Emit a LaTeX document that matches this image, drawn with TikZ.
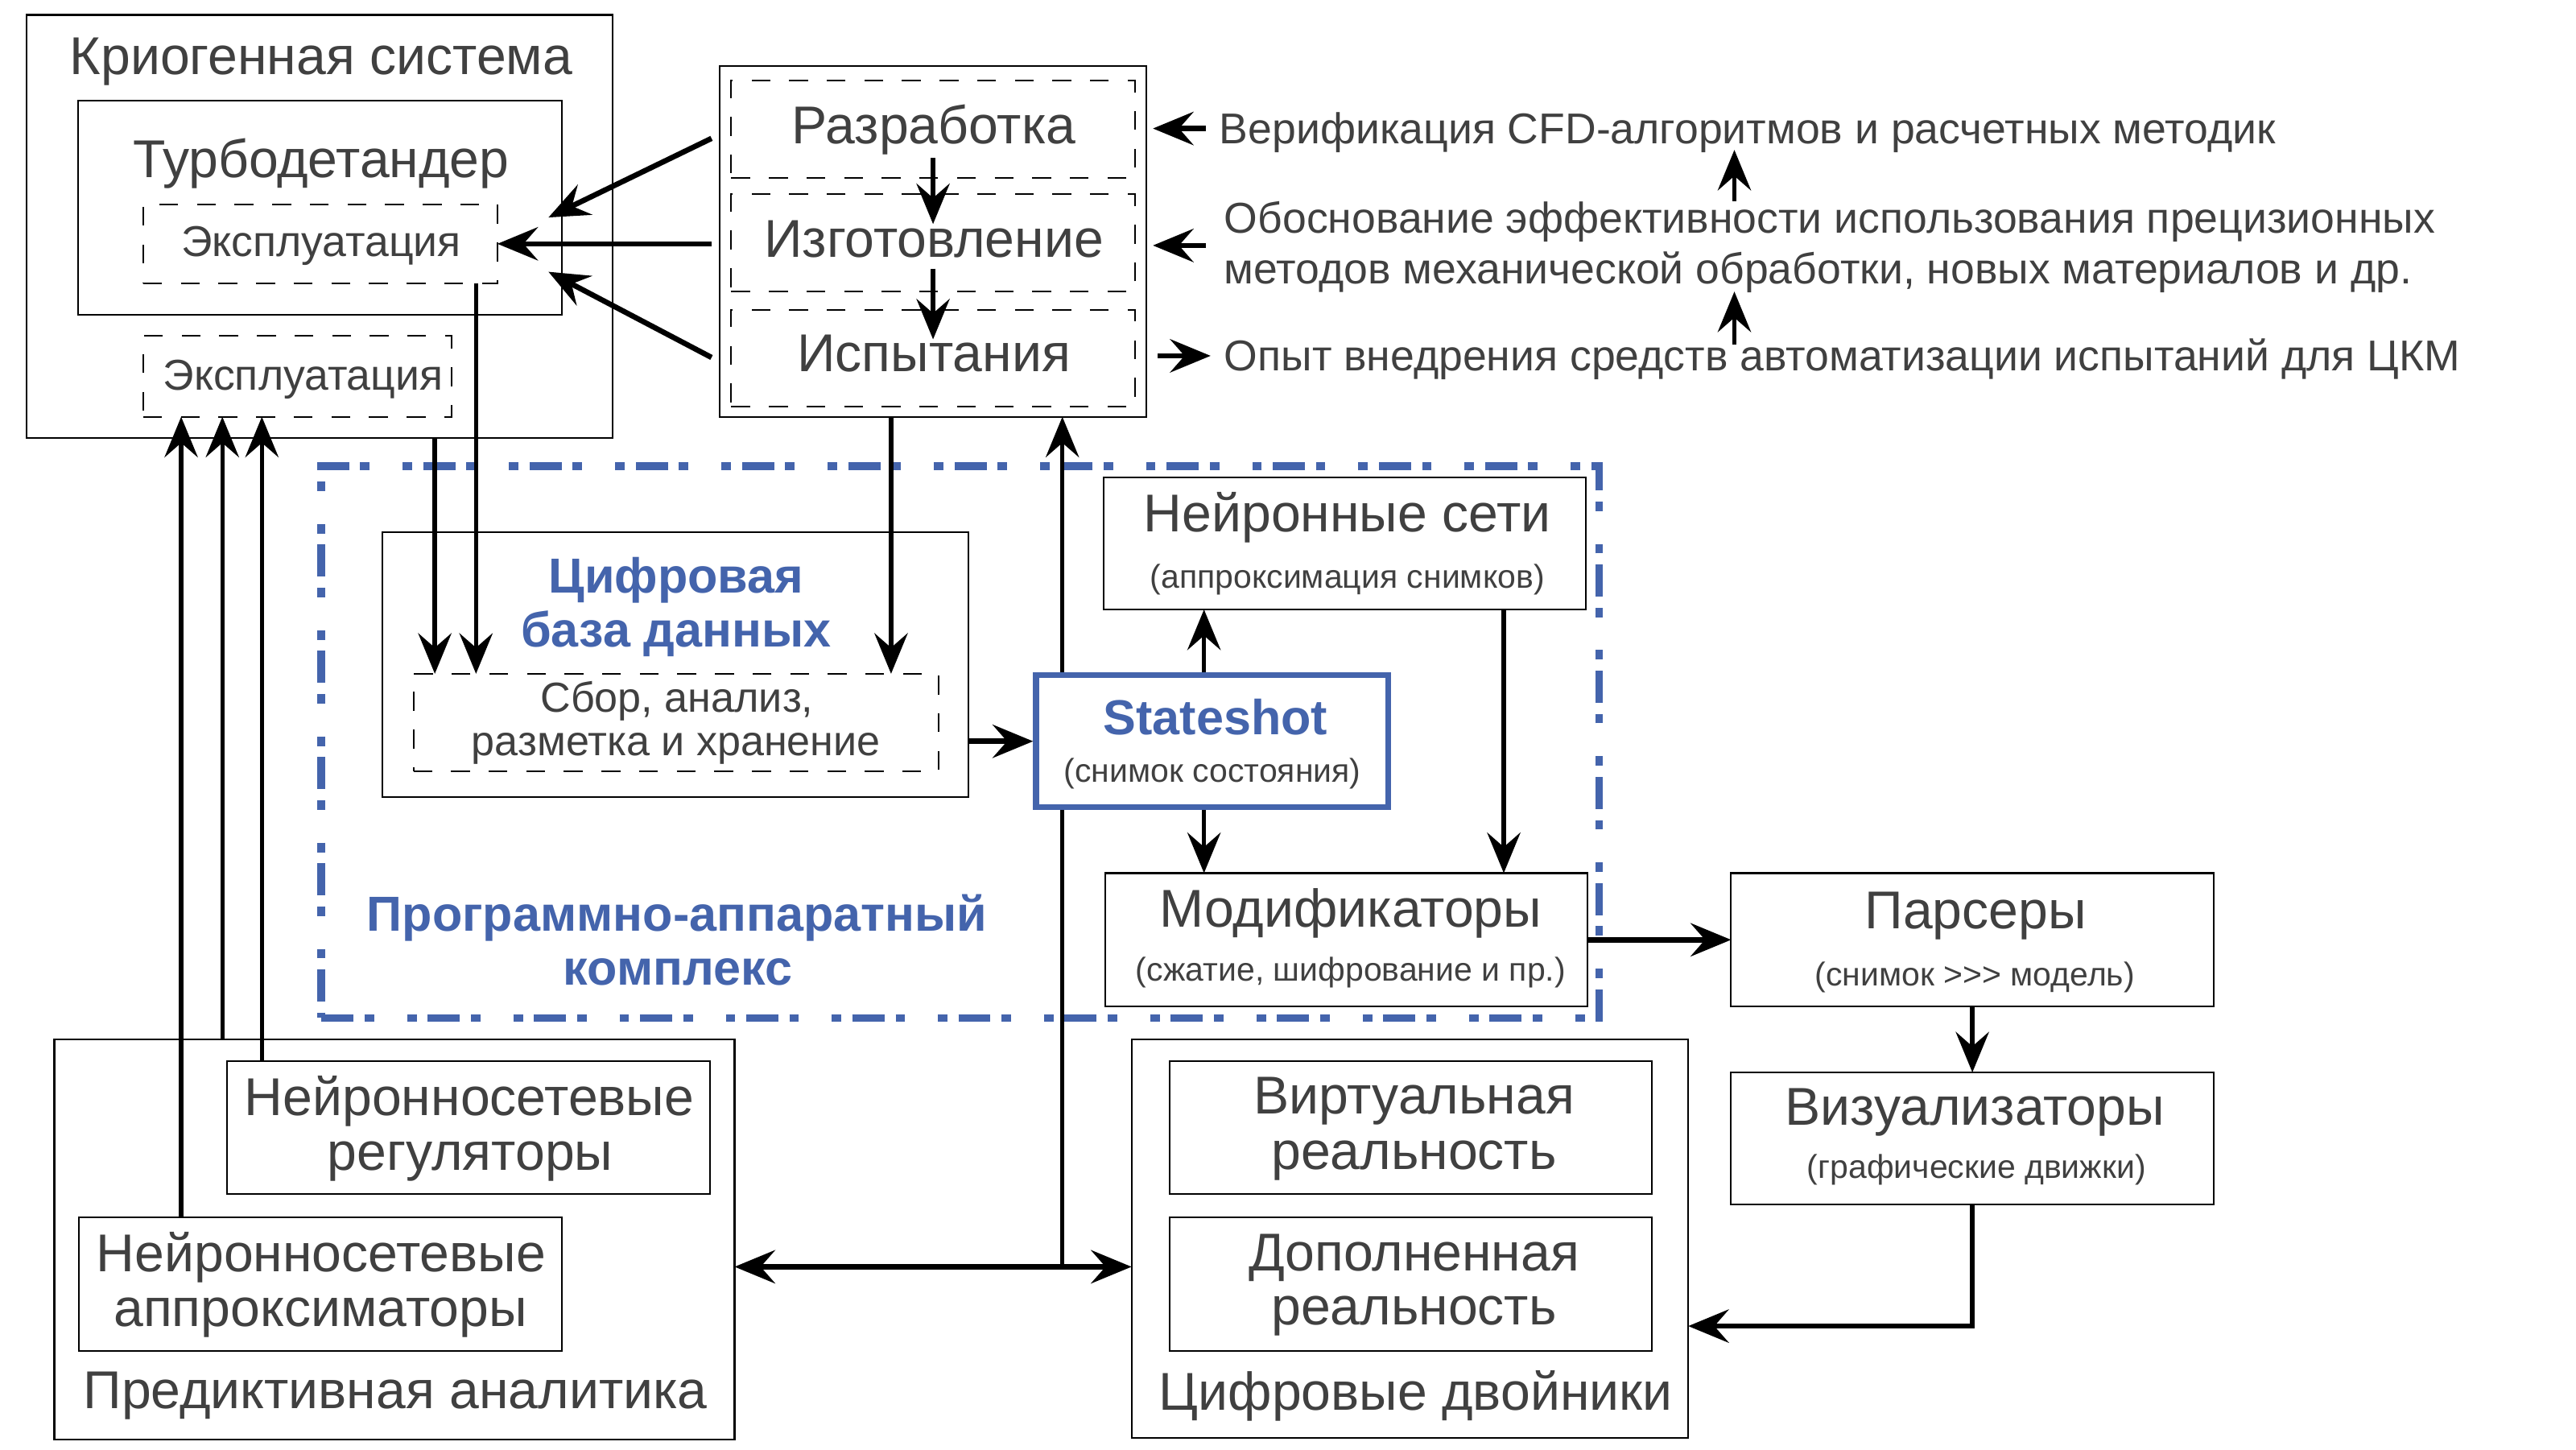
\documentclass[tikz,border=0pt]{standalone}
\usepackage{fontspec}
\setmainfont{Liberation Sans}
\usetikzlibrary{arrows.meta}
\definecolor{txt}{RGB}{64,64,64}
\definecolor{blu}{RGB}{68,100,172}
\newcommand\fbig{\fontsize{18.4}{21}\selectfont}
\newcommand\fmed{\fontsize{14.9}{17}\selectfont}
\newcommand\fsb{\fontsize{14.5}{17}\selectfont}
\newcommand\frt{\fontsize{14.9}{17}\selectfont}
\newcommand\fsm{\fontsize{11.4}{14}\selectfont}
\newcommand\fblu{\fontsize{17}{20}\selectfont\bfseries}
\newcommand\mybox[6]{\node[#1, minimum width={(#5-#3)*0.02cm}, minimum height={(#6-#4)*0.02cm}] (#2) at ({(#3+#5)/2},{(#4+#6)/2}) {};}
\begin{document}
\begin{tikzpicture}[x=0.02cm,y=-0.02cm,
  bx/.style={draw=black, line width=0.6pt, fill=white, inner sep=0pt, outer sep=0pt},
  dbx/.style={draw=black, line width=0.55pt, dash pattern=on 6.5pt off 6.5pt, inner sep=0pt, outer sep=0pt},
  tb/.style={anchor=base, inner sep=0pt, text=txt},
  tl/.style={anchor=base west, inner sep=0pt, text=txt},
  tbl/.style={anchor=base, inner sep=0pt, text=blu},
  ar/.style={line width=1.5pt, -{Stealth[length=14pt,width=11.5pt,inset=5pt]}},
  arth/.style={line width=1.85pt, -{Stealth[length=14pt,width=11.5pt,inset=5pt]}},
  arboth/.style={line width=1.85pt, {Stealth[length=14pt,width=11.5pt,inset=5pt]}-{Stealth[length=14pt,width=11.5pt,inset=5pt]}}
]
\useasboundingbox (0,0) rectangle (1564,880);
% ---------- boxes ----------
\mybox{bx}{krio}{16}{9}{372}{266}
\mybox{bx}{turbo}{47.5}{61}{341}{191}
\mybox{dbx}{eks1}{87}{124}{302}{172}
\mybox{dbx}{eks2}{87}{204}{274}{253}
\mybox{bx}{dg}{437}{40}{696}{253}
\mybox{dbx}{dr}{444}{49}{689}{108}
\mybox{dbx}{di}{444}{118}{689}{177}
\mybox{dbx}{dt}{444}{188}{689}{247}
\node[draw=blu, line width=2.6pt, dash pattern=on 11.1pt off 3.9pt on 3.3pt off 11.4pt on 3.3pt off 3.7pt, inner sep=0pt, minimum width={776*0.02cm}, minimum height={335*0.02cm}] (frame) at (583,450.5) {};
\mybox{bx}{cifr}{232}{323}{588}{484}
\mybox{dbx}{sbor}{251}{409}{570}{468}
\mybox{bx}{neur}{670}{290}{963}{370}
\mybox{bx}{mod}{671}{530}{964}{611}
\mybox{bx}{pars}{1051}{530}{1344}{611}
\mybox{bx}{vis}{1051}{651}{1344}{731}
\mybox{bx}{pa}{33}{631}{446}{874}
\mybox{bx}{reg}{138}{644}{431}{725}
\mybox{bx}{appr}{48}{739}{341}{820}
\mybox{bx}{cd}{687}{631}{1025}{873}
\mybox{bx}{vr}{710}{644}{1003}{725}
\mybox{bx}{dor}{710}{739}{1003}{820}
% ---------- helper coordinates ----------
\coordinate (x110) at (110,0);
\coordinate (x135) at (135,0);
\coordinate (x159) at (159,0);
\coordinate (x264) at (264,0);
\coordinate (x289) at (289,0);
\coordinate (x541) at (541,0);
\coordinate (x645) at (645,0);
\coordinate (x731) at (731,0);
\coordinate (x913) at (913,0);
\coordinate (y769) at (0,769);
\coordinate (y805) at (0,805);
\coordinate (s1) at (432,84);
\coordinate (s2) at (432,148);
\coordinate (s3) at (432,217);
\coordinate (t1) at (333,132);
\coordinate (t3) at (333,165);
\coordinate (rA) at (732,78);
\coordinate (rB) at (732,149);
\coordinate (rC) at (735,216);
\coordinate (uA1) at (1053,122);
\coordinate (uA2) at (1053,91);
\coordinate (uB1) at (1053,209);
\coordinate (uB2) at (1053,177);
% ---------- connector behind Stateshot ----------
\draw[ar] (x645 |- y769) -- (x645 |- dg.south);
\node[draw=blu, line width=2pt, fill=white, inner sep=0pt, minimum width={214*0.02cm}, minimum height={80*0.02cm}] (state) at (736,450) {};
% ---------- texts ----------
\node[tb, font=\fbig] (tkrio) at (195,45) {Криогенная система};
\node[tb, font=\fbig] (tturbo) at (195,108) {Турбодетандер};
\node[tb, font=\fmed] (teks1) at (195,155.5) {Эксплуатация};
\node[tb, font=\fmed] (teks2) at (184,237) {Эксплуатация};
\node[tb, font=\fbig] (tdr) at (567,87) {Разработка};
\node[tb, font=\fbig] (tdi) at (567,156) {Изготовление};
\node[tb, font=\fbig] (tdt) at (567,225.5) {Испытания};
\node[tl, font=\frt] (r1) at (740,87) {Верификация CFD-алгоритмов и расчетных методик};
\node[tl, font=\frt] (r2) at (743,141.5) {Обоснование эффективности использования прецизионных};
\node[tl, font=\frt] (r3) at (743,172.5) {методов механической обработки, новых материалов и др.};
\node[tl, font=\frt] (r4) at (743,225) {Опыт внедрения средств автоматизации испытаний для ЦКМ};
\node[tb, font=\fbig] (tneur) at (818,323) {Нейронные сети};
\node[tb, font=\fsm] (tneur2) at (818,357) {(аппроксимация снимков)};
\node[tbl, font=\fblu] (tcifr1) at (410.5,360) {Цифровая};
\node[tbl, font=\fblu] (tcifr2) at (410.5,392.5) {база данных};
\node[tb, font=\fsb] (tsbor1) at (411,432.5) {Сбор, анализ,};
\node[tb, font=\fsb] (tsbor2) at (410.5,458.5) {разметка и хранение};
\node[tbl, font=\fblu] (tstate) at (738,446) {Stateshot};
\node[tb, font=\fsm] (tstate2) at (736,475) {(снимок состояния)};
\node[tb, font=\fbig] (tmod) at (820,563) {Модификаторы};
\node[tb, font=\fsm] (tmod2) at (820,595.5) {(сжатие, шифрование и пр.)};
\node[tbl, font=\fblu] (tprog1) at (411,565) {Программно-аппаратный};
\node[tbl, font=\fblu] (tprog2) at (411.5,598) {комплекс};
\node[tb, font=\fbig] (tpars) at (1199.5,564) {Парсеры};
\node[tb, font=\fsm] (tpars2) at (1199,598.5) {(снимок >{}>{}> модель)};
\node[tb, font=\fbig] (tvis) at (1199,683) {Визуализаторы};
\node[tb, font=\fsm] (tvis2) at (1200,715.5) {(графические движки)};
\node[tb, font=\fbig] (treg1) at (285,677) {Нейронносетевые};
\node[tb, font=\fbig] (treg2) at (285.5,710.4) {регуляторы};
\node[tb, font=\fbig] (tappr1) at (195,772) {Нейронносетевые};
\node[tb, font=\fbig] (tappr2) at (194.5,805) {аппроксиматоры};
\node[tb, font=\fbig] (tpa) at (240,855) {Предиктивная аналитика};
\node[tb, font=\fbig] (tvr1) at (858.5,676) {Виртуальная};
\node[tb, font=\fbig] (tvr2) at (858.5,710) {реальность};
\node[tb, font=\fbig] (tdor1) at (858.5,771.6) {Дополненная};
\node[tb, font=\fbig] (tdor2) at (858.5,804.3) {реальность};
\node[tb, font=\fbig] (tcd) at (859.5,856) {Цифровые двойники};
% ---------- connectors ----------
\draw[ar] ([yshift=0.24cm]dr.south) -- ([yshift=-0.36cm]di.north);
\draw[ar] ([yshift=0.28cm]di.south) -- ([yshift=-0.36cm]dt.north);
\draw[arth] (s1) -- (t1);
\draw[arth] (s2) -- (eks1.east);
\draw[arth] (s3) -- (t3);
\draw[arth] (rA) -- ([xshift=0.08cm]dg.east |- rA);
\draw[arth] (rB) -- ([xshift=0.08cm]dg.east |- rB);
\draw[arth] ([xshift=0.14cm]dg.east |- rC) -- (rC);
\draw[ar] (uA1) -- (uA2);
\draw[ar] (uB1) -- (uB2);
\draw[ar] (x264 |- krio.south) -- (x264 |- sbor.north);
\draw[ar] (x289 |- eks1.south) -- (x289 |- sbor.north);
\draw[ar] (x541 |- dg.south) -- (x541 |- sbor.north);
\draw[arth] (cifr.east |- state.west) -- (state.west);
\draw[ar] (x731 |- state.north) -- (x731 |- neur.south);
\draw[ar] (x731 |- state.south) -- (x731 |- mod.north);
\draw[ar] (x913 |- neur.south) -- (x913 |- mod.north);
\draw[arth] (mod.east) -- (mod.east -| pars.west);
\draw[ar] (pars.south) -- (vis.north);
\draw[arth] (vis.south) |- (cd.east |- y805);
\draw[arboth] (pa.east |- y769) -- (cd.west |- y769);
\draw[ar] (x110 |- appr.north) -- (x110 |- eks2.south);
\draw[ar] (x135 |- pa.north) -- (x135 |- eks2.south);
\draw[ar] (x159 |- reg.north) -- (x159 |- eks2.south);
\end{tikzpicture}
\end{document}
